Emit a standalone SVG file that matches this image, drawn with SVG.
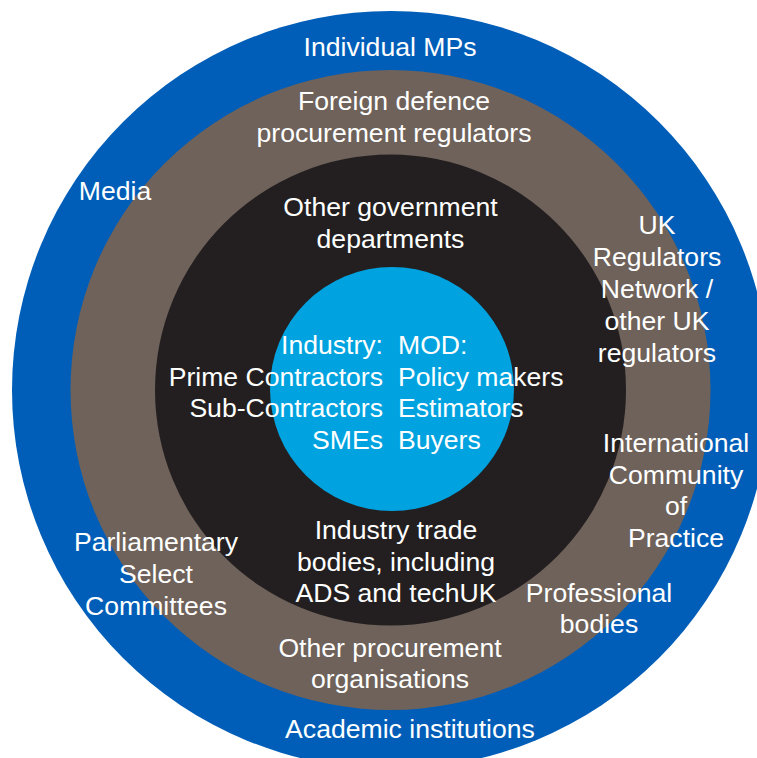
<svg xmlns="http://www.w3.org/2000/svg" width="757" height="758" viewBox="0 0 757 758">
<style>
text{font-family:"Liberation Sans",Arial,sans-serif;font-size:26.6px;fill:#ffffff}
.c{text-anchor:middle}
.r{text-anchor:end}
.l{text-anchor:start}
</style>
<rect width="757" height="758" fill="#ffffff"/>
<g id="ring-outer"><circle cx="391" cy="390" r="379" fill="#005EB8"/></g>
<g id="ring-brown"><circle cx="390.5" cy="390" r="320" fill="#6E625A"/></g>
<g id="ring-black"><circle cx="390.5" cy="390" r="235.5" fill="#231F20"/></g>
<g id="core"><circle cx="392" cy="389" r="122" fill="#00A3DF"/></g>
<g id="connectors"></g>
<g id="labels">
<text class="c" x="390" y="56">Individual MPs</text>
<text class="c" x="394" y="110">Foreign defence</text>
<text class="c" x="394" y="142">procurement regulators</text>
<text class="c" x="115" y="200">Media</text>
<text class="c" x="390.5" y="216">Other government</text>
<text class="c" x="390.5" y="248">departments</text>
<text class="c" x="657" y="234">UK</text>
<text class="c" x="657" y="266">Regulators</text>
<text class="c" x="657" y="298">Network /</text>
<text class="c" x="657" y="330">other UK</text>
<text class="c" x="657" y="362">regulators</text>
<text class="r" x="383" y="354">Industry:</text>
<text class="r" x="383" y="386">Prime Contractors</text>
<text class="r" x="383" y="417">Sub-Contractors</text>
<text class="r" x="383" y="449">SMEs</text>
<text class="l" x="398" y="354">MOD:</text>
<text class="l" x="398" y="386">Policy makers</text>
<text class="l" x="398" y="417">Estimators</text>
<text class="l" x="398" y="449">Buyers</text>
<text class="c" x="676" y="452">International</text>
<text class="c" x="676" y="484">Community</text>
<text class="c" x="676" y="515">of</text>
<text class="c" x="676" y="547">Practice</text>
<text class="c" x="156" y="551">Parliamentary</text>
<text class="c" x="156" y="583">Select</text>
<text class="c" x="156" y="615">Committees</text>
<text class="c" x="396" y="539">Industry trade</text>
<text class="c" x="396" y="571">bodies, including</text>
<text class="c" x="396" y="602">ADS and techUK</text>
<text class="c" x="599" y="602">Professional</text>
<text class="c" x="599" y="633">bodies</text>
<text class="c" x="390" y="657">Other procurement</text>
<text class="c" x="390" y="688">organisations</text>
<text class="c" x="410" y="738">Academic institutions</text>
</g>
</svg>
